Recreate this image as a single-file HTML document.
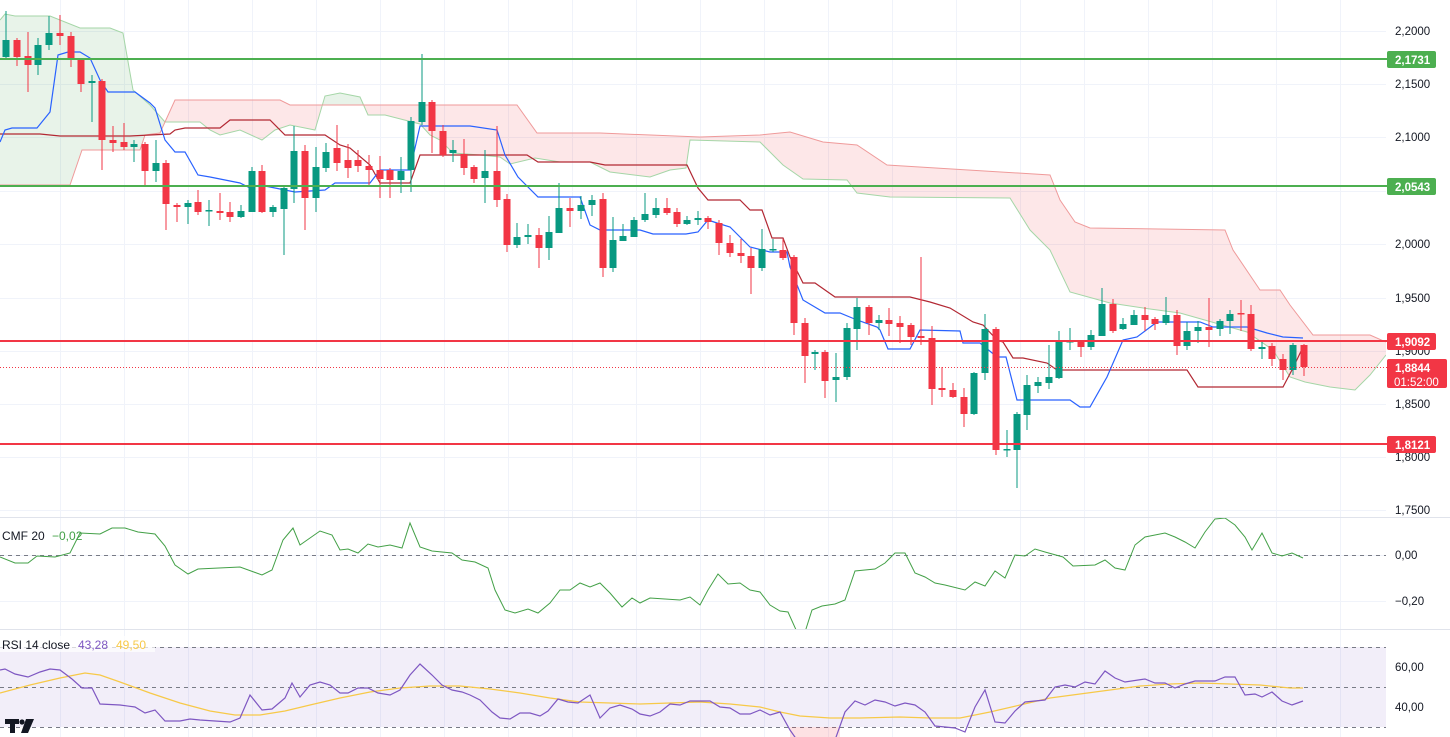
<!DOCTYPE html>
<html><head><meta charset="utf-8"><style>
html,body{margin:0;padding:0;background:#fff;width:1450px;height:737px;overflow:hidden}
svg{display:block;font-family:"Liberation Sans",sans-serif}
</style></head><body>
<svg id="c" width="1450" height="737" viewBox="0 0 1450 737" xmlns="http://www.w3.org/2000/svg">
<defs>
<clipPath id="belowA"><polygon id="pBelowA" points=""/></clipPath>
<clipPath id="aboveB"><polygon id="pAboveB" points=""/></clipPath>
<clipPath id="belowB"><polygon id="pBelowB" points=""/></clipPath>
<clipPath id="main"><rect x="0" y="0" width="1386" height="517"/></clipPath>
<clipPath id="cmfc"><rect x="0" y="518" width="1386" height="111"/></clipPath>
<clipPath id="rsic"><rect x="0" y="630" width="1386" height="107"/></clipPath>
</defs>
<g id="grid" stroke="#f0f3fa" stroke-width="1"></g>
<g id="cloud" clip-path="url(#main)"></g>
<g id="lines" clip-path="url(#main)" fill="none"></g>
<g id="candles"></g>
<g id="hlines"></g>
<line x1="0" y1="517.5" x2="1450" y2="517.5" stroke="#e0e3eb"/>
<line x1="0" y1="629.5" x2="1450" y2="629.5" stroke="#e0e3eb"/>
<g id="cmf"></g>
<g id="rsi"></g>
<g id="axis" font-size="11.5" fill="#131722"></g>
<g id="labels"></g>
<text x="2" y="540" font-size="12" fill="#131722">CMF 20</text>
<text x="52" y="540" font-size="12" fill="#43a047">−0,02</text>
<rect x="0" y="636" width="155" height="16" fill="#fff" opacity="0.7"/>
<text x="2" y="649" font-size="12" fill="#131722">RSI 14 close</text>
<text x="78" y="649" font-size="12" fill="#7e57c2">43,28</text>
<text x="116" y="649" font-size="12" fill="#f7c948">49,50</text>
<g fill="#131722"><rect x="5" y="719" width="14" height="5"/><rect x="10" y="719" width="5" height="14"/><circle cx="22" cy="722" r="2.6"/><polygon points="26,719 34,719 28,733 21,733"/></g>
</svg>
<script>
const NS="http://www.w3.org/2000/svg";
function el(p,t,a,txt){const e=document.createElementNS(NS,t);for(const k in a)e.setAttribute(k,a[k]);if(txt!==undefined)e.textContent=txt;p.appendChild(e);return e;}
const $=id=>document.getElementById(id);
const pts=a=>a.map(p=>p.join(",")).join(" ");
const g=$("grid");
for(let x=60;x<1386;x+=64)el(g,"line",{x1:x+.5,y1:0,x2:x+.5,y2:737});
[31,84,137,191,244,298,351,404,457,510].forEach(y=>el(g,"line",{x1:0,y1:y+.5,x2:1386,y2:y+.5}));
[555,601].forEach(y=>el(g,"line",{x1:0,y1:y+.5,x2:1386,y2:y+.5}));
const A=[[0,20],[5,14],[15,16],[50,16],[80,28],[110,28],[123,33],[133,90],[150,105],[165,122],[200,122],[210,130],[220,135],[240,130],[262,140],[275,130],[290,125],[315,130],[325,96],[340,93],[360,97],[368,115],[385,115],[420,124],[430,135],[440,140],[453,153],[480,155],[500,157],[510,164],[535,158],[560,162],[590,162],[610,172],[650,177],[670,170],[686,168],[690,140],[760,142],[783,165],[803,179],[847,180],[857,193],[890,197],[1010,198],[1030,230],[1050,250],[1070,292],[1110,303],[1150,309],[1180,313],[1247,332],[1273,350],[1290,377],[1305,382],[1330,387],[1355,390],[1370,375],[1386,355]];
const B=[[0,185],[70,185],[82,150],[140,150],[145,135],[160,133],[175,100],[280,100],[290,105],[517,105],[537,133],[600,133],[700,137],[760,135],[790,132],[823,142],[857,145],[887,165],[1050,175],[1060,200],[1075,222],[1090,228],[1225,230],[1233,250],[1260,290],[1280,290],[1290,305],[1313,335],[1370,335],[1386,342]];
$("pBelowA").setAttribute("points",pts([[0,737],...A,[1386,737]]));
$("pAboveB").setAttribute("points",pts([[0,0],...B,[1386,0]]));
$("pBelowB").setAttribute("points",pts([[0,737],...B,[1386,737]]));
const cl=$("cloud");
const gA=el(cl,"g",{"clip-path":"url(#aboveB)"});
el(gA,"polygon",{points:pts([[0,737],...A,[1386,737]]),fill:"rgba(67,160,71,0.12)"});
const gB=el(cl,"g",{"clip-path":"url(#belowB)"});
el(gB,"polygon",{points:pts([[0,0],...A,[1386,0]]),fill:"rgba(242,54,69,0.12)"});
const ln=$("lines");
el(ln,"polyline",{points:pts(A),stroke:"#a5d6a7","stroke-width":1});
el(ln,"polyline",{points:pts(B),stroke:"#ef9a9a","stroke-width":1});
const K=[[0,134],[40,134],[60,136],[130,136],[170,134],[175,130],[185,128],[220,128],[230,120],[270,120],[285,135],[325,135],[340,145],[350,148],[370,165],[380,183],[410,183],[420,155],[527,155],[538,162],[590,162],[605,165],[687,165],[698,188],[708,200],[740,200],[750,210],[762,210],[772,238],[783,238],[790,257],[803,283],[815,283],[835,297],[910,297],[930,302],[950,308],[973,322],[983,325],[997,340],[1003,342],[1013,358],[1023,358],[1047,363],[1057,370],[1187,370],[1198,387],[1283,387],[1293,368],[1303,347]];
const T=[[0,142],[5,130],[12,128],[37,128],[50,112],[58,55],[68,52],[80,52],[90,58],[100,80],[108,92],[135,92],[150,103],[155,108],[165,140],[175,152],[185,152],[198,175],[210,177],[240,183],[250,188],[260,185],[275,188],[285,190],[295,192],[325,190],[335,183],[370,183],[380,170],[410,170],[420,126],[470,126],[497,130],[505,155],[518,177],[538,197],[580,197],[590,225],[600,230],[640,230],[653,234],[686,234],[698,232],[708,220],[717,223],[730,227],[750,247],[770,252],[787,252],[790,267],[803,300],[825,313],[840,313],[857,320],[877,327],[880,330],[888,349],[910,349],[920,330],[960,331],[963,343],[980,343],[997,357],[1006,357],[1017,400],[1070,400],[1080,407],[1090,407],[1107,377],[1123,340],[1137,337],[1157,322],[1200,322],[1213,327],[1247,327],[1267,333],[1283,337],[1303,338]];
el(ln,"polyline",{points:pts(K),stroke:"#b22833","stroke-width":1.2});
el(ln,"polyline",{points:pts(T),stroke:"#2962ff","stroke-width":1.2});
const C=[[6,1,40,57,11,58],[17,0,40,57,38,66],[28,0,56,65,32,92],[38,1,45,65,38,75],[49,1,33,45,16,50],[60,0,33,36,15,45],[71,0,36,60,32,67],[81,0,60,84,58,92],[92,1,81,83,75,122],[102,0,81,140,79,170],[113,0,140,143,126,152],[124,0,142,147,123,150],[134,1,144,147,140,162],[145,0,144,171,142,185],[156,1,163,171,140,182],[166,0,163,204,160,230],[177,0,205,207,203,222],[188,1,203,207,200,224],[198,0,202,212,190,215],[209,1,210,211,200,226],[220,0,211,213,193,220],[230,0,212,217,202,222],[241,1,211,217,205,218],[252,1,171,212,167,212],[262,0,171,212,165,213],[273,1,207,212,205,217],[284,1,188,209,185,255],[294,1,151,189,126,203],[305,0,151,198,145,230],[316,1,167,198,147,212],[326,1,152,168,143,172],[337,0,148,163,125,171],[348,0,160,168,144,178],[358,0,160,166,150,172],[369,0,166,170,155,185],[380,0,170,179,156,198],[390,0,170,180,168,198],[401,1,171,180,157,193],[411,1,121,170,117,192],[422,1,102,122,54,125],[432,0,102,131,100,153],[443,0,131,155,125,157],[453,1,150,153,140,162],[464,0,154,168,139,175],[474,0,167,179,165,183],[485,1,171,178,150,203],[497,0,171,200,126,207],[507,0,199,245,194,252],[517,1,237,245,223,248],[528,1,235,237,224,244],[539,0,235,248,228,268],[549,1,232,248,216,260],[559,1,208,233,183,233],[570,0,208,211,198,227],[581,1,205,211,196,219],[592,1,200,205,195,216],[603,0,199,268,193,277],[613,1,240,268,217,272],[623,1,236,241,224,241],[634,1,220,237,217,237],[645,1,214,220,193,222],[656,1,208,215,198,218],[667,0,208,213,198,215],[677,0,212,224,208,227],[687,1,220,224,216,225],[698,1,218,220,211,225],[708,0,218,222,216,229],[719,0,223,243,220,255],[730,0,243,253,235,257],[741,0,253,256,239,263],[751,0,256,268,248,294],[762,1,249,268,229,271],[773,1,249,250,239,252],[783,0,250,258,239,260],[794,0,257,323,255,335],[805,0,323,356,318,383],[815,1,352,354,350,370],[825,0,352,381,350,398],[836,1,377,380,353,402],[847,1,328,377,323,380],[857,1,307,329,298,350],[869,0,307,323,305,335],[879,1,320,323,315,330],[889,0,320,324,308,336],[900,0,323,327,316,343],[911,0,325,337,323,345],[921,0,336,338,257,345],[932,0,338,389,326,405],[942,0,388,390,367,397],[953,0,390,397,383,398],[964,0,397,414,388,427],[974,1,373,414,372,415],[985,1,329,373,314,380],[996,0,329,450,327,455],[1007,1,449,450,430,457],[1017,1,414,450,412,488],[1027,1,385,415,375,430],[1038,1,382,386,377,393],[1049,1,377,383,345,389],[1059,1,342,378,331,379],[1070,1,341,342,328,350],[1081,0,342,347,340,357],[1091,1,335,347,330,350],[1102,1,304,336,288,336],[1113,0,304,331,299,333],[1123,1,324,329,318,330],[1134,1,315,325,310,325],[1145,0,315,320,307,331],[1155,0,319,324,317,330],[1166,1,315,323,297,325],[1177,0,315,346,310,355],[1187,1,331,346,322,350],[1198,1,327,331,321,343],[1209,0,327,330,298,347],[1220,1,321,329,319,336],[1230,1,314,321,310,334],[1241,0,313,314,300,331],[1251,0,314,349,305,351],[1262,1,347,349,342,359],[1272,0,346,359,343,366],[1283,0,359,370,354,380],[1293,1,345,370,343,375],[1304,0,345,367,344,376]];
const cg=$("candles");
C.forEach(c=>{const col=c[1]?"#089981":"#f23645";
el(cg,"line",{x1:c[0],y1:c[4],x2:c[0],y2:c[5],stroke:col,"stroke-width":1});
el(cg,"rect",{x:c[0]-3.5,y:c[2],width:7,height:Math.max(1.5,c[3]-c[2]),fill:col});});
const h=$("hlines");
el(h,"line",{x1:0,y1:59,x2:1387,y2:59,stroke:"#4caf50","stroke-width":2});
el(h,"line",{x1:0,y1:186,x2:1387,y2:186,stroke:"#4caf50","stroke-width":2});
el(h,"line",{x1:0,y1:341,x2:1387,y2:341,stroke:"#f23645","stroke-width":2});
el(h,"line",{x1:0,y1:444,x2:1387,y2:444,stroke:"#f23645","stroke-width":2});
el(h,"line",{x1:0,y1:367.5,x2:1387,y2:367.5,stroke:"#f23645","stroke-width":1,"stroke-dasharray":"1 2"});
const cm=$("cmf");
el(cm,"line",{x1:0,y1:555.5,x2:1386,y2:555.5,stroke:"#787b86","stroke-dasharray":"4 4"});
const CM=[[0,557],[15,563],[28,563],[37,556],[55,557],[70,553],[80,533],[100,534],[112,528],[125,528],[138,532],[155,534],[165,546],[175,565],[188,574],[198,569],[240,567],[262,575],[272,570],[283,540],[293,528],[300,545],[310,538],[320,531],[332,535],[340,550],[348,549],[358,553],[368,544],[378,547],[390,545],[402,548],[410,523],[420,547],[432,551],[452,553],[462,560],[475,562],[488,568],[495,590],[505,610],[515,613],[528,609],[538,613],[550,603],[560,590],[570,590],[580,583],[590,587],[600,583],[610,593],[622,607],[632,598],[640,603],[650,598],[680,600],[690,597],[700,605],[708,590],[718,574],[728,584],[740,583],[750,590],[760,592],[770,605],[780,611],[788,612],[797,632],[805,632],[812,610],[822,606],[835,604],[845,600],[855,571],[875,569],[885,563],[895,553],[905,553],[915,573],[925,577],[935,583],[945,585],[965,590],[975,582],[985,586],[995,571],[1005,578],[1015,555],[1025,556],[1035,549],[1045,552],[1063,557],[1073,566],[1095,565],[1105,560],[1115,568],[1125,570],[1135,545],[1145,537],[1165,533],[1175,537],[1185,542],[1195,548],[1205,532],[1215,519],[1225,518],[1235,525],[1245,537],[1252,550],[1262,533],[1272,553],[1282,556],[1292,553],[1303,558]];
el(cm,"polyline",{points:pts(CM),fill:"none",stroke:"#43a047","stroke-width":1,"clip-path":"url(#cmfc)"});
const r=$("rsi");
el(r,"rect",{x:0,y:647,width:1386,height:80,fill:"rgba(126,87,194,0.1)"});
[647,687,727].forEach(y=>el(r,"line",{x1:0,y1:y+.5,x2:1386,y2:y+.5,stroke:"#787b86","stroke-dasharray":"4 4"}));
el(r,"rect",{x:790,y:727,width:50,height:10,fill:"rgba(242,54,69,0.15)"});
const MA=[[0,693],[30,685],[60,678],[85,673],[100,675],[120,682],[150,693],[180,703],[210,711],[235,715],[260,715],[285,711],[310,705],[340,698],[370,692],[400,688],[430,686],[460,686],[490,689],[520,693],[550,698],[580,702],[610,703],[640,704],[670,703],[700,702],[730,704],[760,707],[780,712],[800,716],[830,718],[860,718],[900,717],[930,718],[960,718],[990,712],[1020,705],[1050,698],[1080,694],[1110,690],[1140,686],[1170,684],[1200,683],[1230,684],[1260,685],[1290,688],[1303,688]];
const RS=[[0,670],[5,669],[15,674],[28,677],[40,672],[50,669],[60,670],[72,679],[82,688],[92,688],[100,704],[120,705],[135,707],[145,713],[155,710],[165,721],[180,721],[190,719],[200,720],[215,721],[230,722],[240,718],[250,695],[262,710],[272,709],[285,698],[292,683],[300,697],[310,685],[320,682],[330,685],[340,693],[348,693],[358,688],[368,688],[378,693],[390,695],[400,690],[410,675],[420,664],[432,675],[442,685],[452,690],[462,692],[470,695],[480,700],[492,712],[500,718],[510,719],[520,713],[530,713],[540,716],[548,711],[558,699],[568,702],[578,703],[590,695],[600,718],[610,708],[620,705],[632,709],[640,714],[650,716],[660,712],[670,704],[680,705],[690,701],[710,701],[720,707],[730,708],[740,714],[750,714],[760,710],[770,715],[780,712],[790,730],[797,740],[835,740],[845,712],[855,701],[865,705],[875,700],[885,702],[895,706],[905,703],[915,705],[925,712],[935,726],[945,727],[955,728],[965,732],[975,707],[985,690],[995,722],[1005,723],[1015,711],[1025,702],[1045,700],[1055,687],[1065,685],[1075,687],[1085,682],[1095,684],[1105,671],[1115,678],[1125,682],[1145,679],[1155,683],[1165,683],[1175,688],[1185,684],[1195,681],[1215,681],[1225,677],[1235,677],[1245,695],[1255,694],[1262,697],[1272,692],[1282,701],[1292,705],[1303,701]];
el(r,"polyline",{points:pts(MA),fill:"none",stroke:"#f7c948","stroke-width":1.2,"clip-path":"url(#rsic)"});
el(r,"polyline",{points:pts(RS),fill:"none",stroke:"#7e57c2","stroke-width":1.2,"clip-path":"url(#rsic)"});
const ax=$("axis");
[["2,2000",31],["2,1500",84],["2,1000",137],["2,0000",244],["1,9500",298],["1,9000",351],["1,8500",404],["1,8000",457],["1,7500",510],["0,00",555],["−0,20",601],["60,00",667],["40,00",707]].forEach(a=>el(ax,"text",{x:1395,y:a[1]+4},a[0]));
const lb=$("labels");
function box(y,h,w,col,txt,t2){el(lb,"rect",{x:1387,y:y,width:w,height:h,rx:2,fill:col});el(lb,"text",{x:1395,y:y+13,"font-size":"11.5",fill:"#fff","font-weight":"bold"},txt);if(t2)el(lb,"text",{x:1394,y:y+27,"font-size":"11.5",fill:"#fff"},t2);}
box(51,17,49,"#4caf50","2,1731");box(178,17,49,"#4caf50","2,0543");box(333,17,49,"#f23645","1,9092");box(359,29,60,"#f23645","1,8844","01:52:00");box(436,17,49,"#f23645","1,8121");
</script>
</body></html>
